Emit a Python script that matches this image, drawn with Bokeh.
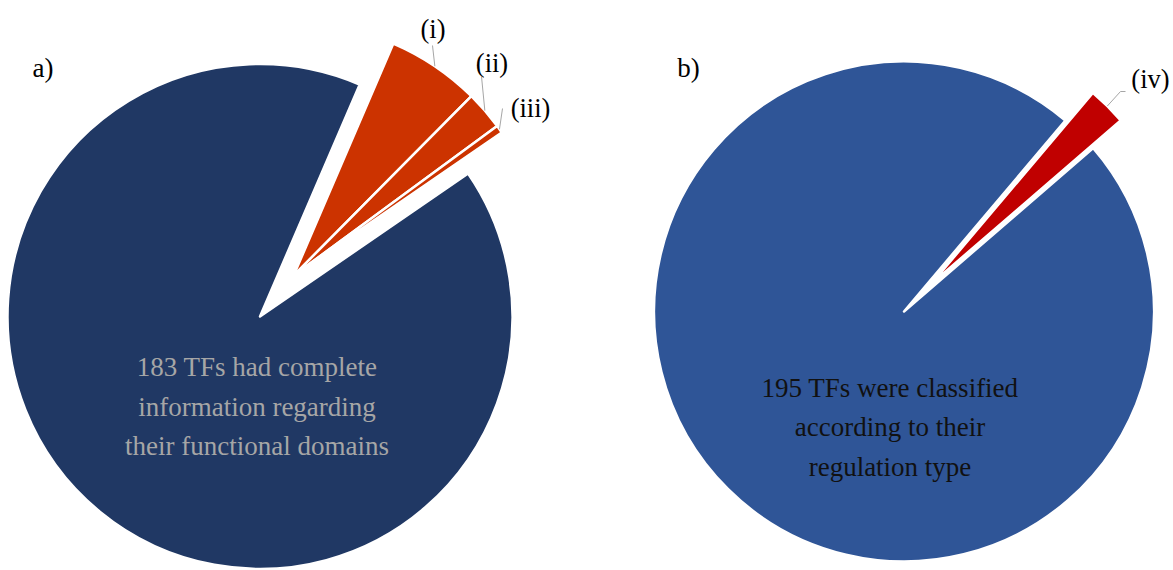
import numpy as np
from bokeh.plotting import figure
from bokeh.models import Range1d
from bokeh.core.properties import value
from bokeh.embed import file_html
from bokeh.resources import INLINE

W, H = 1173, 570

# a) TFs by functional-domain information
domain_counts = [183, 12, 5, 1]
domain_tags = ["", "(i)", "(ii)", "(iii)"]
domain_colors = ["#203864", "#CC3300", "#CC3300", "#CC3300"]
domain_explode = [0, 1, 1, 1]
domain_text = ["183 TFs had complete", "information regarding", "their functional domains"]

# b) TFs by regulation type
regulation_counts = [195, 5]
regulation_tags = ["", "(iv)"]
regulation_colors = ["#2F5597", "#C00000"]
regulation_explode = [0, 1]
regulation_text = ["195 TFs were classified", "according to their", "regulation type"]

FONT = value("Liberation Serif")


def py(v):
    """Convert a top-down pixel row into the figure's y-up data space."""
    return H - v


def draw_pie(p, counts, colors, explode, cx, cy, r, start_deg, shift):
    """Slices run clockwise from start_deg; exploded slices move together
    along the bisector of their combined span. Returns the mid-arc point
    of every slice (for leader lines)."""
    counts = np.asarray(counts, dtype=float)
    spans = counts / counts.sum() * 360.0
    ends = start_deg - np.cumsum(spans)
    starts = ends + spans
    ex = np.asarray(explode, dtype=bool)
    g_mid = np.radians((starts[ex].max() + ends[ex].min()) / 2.0)
    ox, oy = shift * np.cos(g_mid), shift * np.sin(g_mid)
    xs = np.where(ex, cx + ox, cx)
    ys = np.where(ex, cy + oy, cy)
    p.wedge(x=xs, y=ys, radius=r,
            start_angle=np.radians(ends), end_angle=np.radians(starts),
            fill_color=colors, line_color="white", line_width=2.5,
            line_join="round")
    mids = np.radians((starts + ends) / 2.0)
    return xs + r * np.cos(mids), ys + r * np.sin(mids)


p = figure(width=W, height=H, x_range=Range1d(0, W), y_range=Range1d(0, H),
           output_backend="svg", toolbar_location=None, min_border=0,
           background_fill_color="white", border_fill_color="white")
p.axis.visible = False
p.grid.visible = False
p.outline_line_color = None

LEADER = "#A6A6A6"

# ---- panel a ----
ax_, ay_ = draw_pie(p, domain_counts, domain_colors, domain_explode,
                    259.5, py(316), 252.5, 34.5, 53)
a_leader_ends = {"(i)": [(432, 45)], "(ii)": [(481, 76)], "(iii)": [(502, 108)]}
a_label_pos = {"(i)": (432.5, 28.5), "(ii)": (491.5, 62.5), "(iii)": (530, 107)}
for i, tag in enumerate(domain_tags):
    if not tag:
        continue
    pts = [(ax_[i], ay_[i])] + [(x, py(y)) for x, y in a_leader_ends[tag]]
    p.line([q[0] for q in pts], [q[1] for q in pts], line_color=LEADER, line_width=1)
    lx, ly = a_label_pos[tag]
    p.text(x=[lx], y=[py(ly)], text=[tag], text_font=FONT, text_font_size="26.5px",
           text_align="center", text_baseline="alphabetic", text_color="#000000")

p.text(x=[256.5] * 3, y=[py(366), py(406), py(445)], text=domain_text,
       text_font=FONT, text_font_size="27px", text_align="center",
       text_baseline="alphabetic", text_color="#A6A6A6")

# ---- panel b ----
bx_, by_ = draw_pie(p, regulation_counts, regulation_colors, regulation_explode,
                    903.5, py(311), 250, 40.8, 39)
b_leader_ends = {"(iv)": [(1120, 91), (1125, 91)]}
b_label_pos = {"(iv)": (1150, 78.5)}
for i, tag in enumerate(regulation_tags):
    if not tag:
        continue
    pts = [(bx_[i], by_[i])] + [(x, py(y)) for x, y in b_leader_ends[tag]]
    p.line([q[0] for q in pts], [q[1] for q in pts], line_color=LEADER, line_width=1)
    lx, ly = b_label_pos[tag]
    p.text(x=[lx], y=[py(ly)], text=[tag], text_font=FONT, text_font_size="26.5px",
           text_align="center", text_baseline="alphabetic", text_color="#000000")

p.text(x=[889.5] * 3, y=[py(387), py(426.5), py(466)], text=regulation_text,
       text_font=FONT, text_font_size="27px", text_align="center",
       text_baseline="alphabetic", text_color="#111111")

# panel letters
p.text(x=[42.5, 688], y=[py(67), py(67)], text=["a)", "b)"], text_font=FONT,
       text_font_size="27px", text_align="center", text_baseline="alphabetic",
       text_color="#000000")

open("out.html", "w").write(file_html(p, INLINE))
